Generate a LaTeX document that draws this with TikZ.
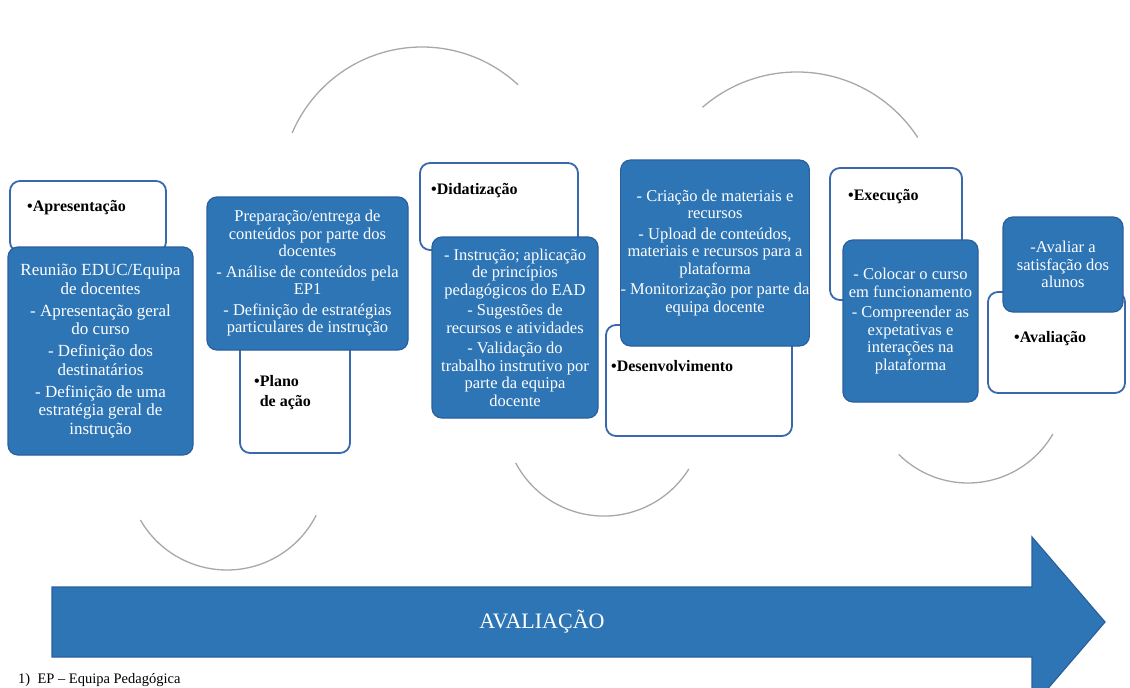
\documentclass[tikz,border=0pt]{standalone}
\usepackage{fontspec}
\setmainfont{Liberation Serif}
\definecolor{boxblue}{HTML}{2E75B6}
\definecolor{edgeblue}{HTML}{2A5F9E}
\definecolor{lineblue}{HTML}{3A68AC}
\definecolor{arcgray}{HTML}{A8A8A8}
\begin{document}
\begin{tikzpicture}[x=1pt,y=-1pt,
  bluebox/.style={draw=edgeblue, line width=1.2pt, fill=boxblue, rounded corners=10pt,
    inner sep=0pt, text=white, align=center, font=\fontsize{16.5}{17.5}\selectfont},
  whitebox/.style={draw=lineblue, line width=1.8pt, fill=white, rounded corners=10pt, inner sep=0pt},
  steplabel/.style={anchor=west, inner sep=0pt, align=left, font=\bfseries\fontsize{16}{20}\selectfont},
  linkarc/.style={draw=arcgray, line width=1.3pt}]
\useasboundingbox (0,0) rectangle (1130,688);
\fill[white] (0,0) rectangle (1130,688);

% connecting arcs
\coordinate (a1s) at (292.2,132.9);
\coordinate (a2s) at (702.5,107.3);
\coordinate (aAs) at (140.4,520);
\coordinate (aBs) at (515.7,463);
\coordinate (aCs) at (898.7,454.3);
\draw[linkarc] (a1s) arc[start angle=-157, end angle=-47, radius=141];
\draw[linkarc] (a2s) arc[start angle=-131, end angle=-33, radius=144];
\draw[linkarc] (aAs) arc[start angle=150, end angle=27, radius=100];
\draw[linkarc] (aBs) arc[start angle=152, end angle=32, radius=100];
\draw[linkarc] (aCs) arc[start angle=135, end angle=30, radius=98];

% step 1
\node[whitebox, minimum width=156pt, minimum height=71pt] (w1) at (88,216.5) {};
\node[steplabel] (l1) at (27,208) {•Apresentação};
\node[bluebox, minimum width=185pt, minimum height=208pt, font=\fontsize{17}{18.5}\selectfont] (b1) at (100.5,351)
  {Reunião EDUC/Equipa\\de docentes\\[3.5pt]- Apresentação geral\\do curso\\[3.5pt]- Definição dos\\destinatários\\[3.5pt]- Definição de uma\\estratégia geral de\\instrução};

% step 2
\node[whitebox, minimum width=110pt, minimum height=113pt] (w2) at (295,396.5) {};
\node[bluebox, minimum width=201pt, minimum height=153pt] (b2) at (307.5,273.5)
  {Preparação/entrega de\\conteúdos por parte dos\\docentes\\[3pt]- Análise de conteúdos pela\\EP1\\[3pt]- Definição de estratégias\\particulares de instrução};
\node[steplabel] (l2) at (254,393) {•Plano\\\hphantom{•}de ação};

% step 3
\node[whitebox, minimum width=158pt, minimum height=87pt] (w3) at (499,206.5) {};
\node[steplabel] (l3) at (431,191) {•Didatização};
\node[bluebox, minimum width=166pt, minimum height=181pt] (b3) at (515,327.5)
  {- Instrução; aplicação\\de princípios\\pedagógicos do EAD\\[3pt]- Sugestões de\\recursos e atividades\\[3pt]- Validação do\\trabalho instrutivo por\\parte da equipa\\docente};

% step 4
\node[whitebox, minimum width=186pt, minimum height=111pt] (w4) at (699,380.5) {};
\node[bluebox, minimum width=186pt, minimum height=186pt] (b4) at (715,253)
  {- Criação de materiais e\\recursos\\[3pt]- Upload de conteúdos,\\materiais e recursos para a\\plataforma\\[3pt]- Monitorização por parte da\\equipa docente};
\node[steplabel] (l4) at (611,366) {•Desenvolvimento};

% step 5
\node[whitebox, minimum width=132pt, minimum height=132pt] (w5) at (896,234) {};
\node[steplabel] (l5) at (848,197) {•Execução};
\node[bluebox, minimum width=135pt, minimum height=162pt] (b5) at (910.5,321)
  {- Colocar o curso\\em funcionamento\\[3pt]- Compreender as\\expetativas e\\interações na\\plataforma};

% step 6
\node[whitebox, minimum width=137pt, minimum height=101pt] (w6) at (1056.5,342.5) {};
\node[bluebox, minimum width=120pt, minimum height=95pt] (b6) at (1063,264.5)
  {-Avaliar a\\satisfação dos\\alunos};
\node[steplabel] (l6) at (1014,339) {•Avaliação};

% big arrow
\begin{scope}
\clip (0,0) rectangle (1130,688);
\draw[fill=boxblue, draw=edgeblue, line width=1.2pt]
  (52,587) -- (1032,587) -- (1032,537) -- (1105,622) -- (1032,707) -- (1032,657) -- (52,657) -- cycle;
\end{scope}
\node[text=white, inner sep=0pt, font=\fontsize{22}{24}\selectfont] (evaltext) at (542,622) {AVALIAÇÃO};
\node[anchor=west, inner sep=0pt, font=\fontsize{14.5}{16}\selectfont] (note) at (18,680) {1)\ \ EP – Equipa Pedagógica};
\end{tikzpicture}
\end{document}
